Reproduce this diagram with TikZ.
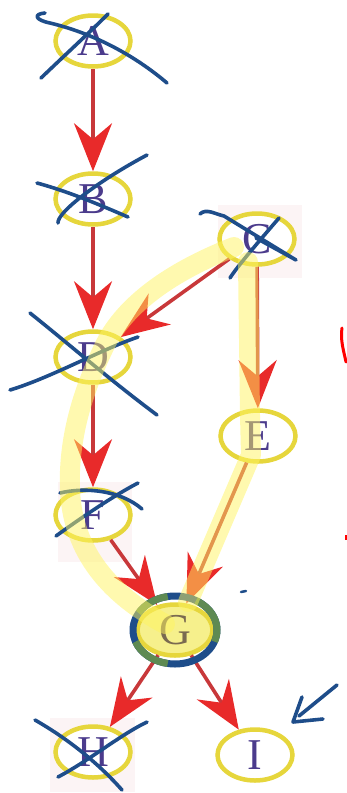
\documentclass[tikz,border=0pt]{standalone}
\usepackage{fontspec}
\setmainfont{Liberation Serif}
\usetikzlibrary{shapes.geometric,arrows.meta}
\definecolor{ellyellow}{HTML}{E6D63C}
\definecolor{letter}{HTML}{4B3B8C}
\definecolor{shaft}{HTML}{C8383A}
\definecolor{headred}{HTML}{E82A2A}
\definecolor{pen}{HTML}{1E4D8A}
\definecolor{penhl}{HTML}{5E8A52}
\definecolor{hl}{HTML}{FFF460}
\definecolor{scanpink}{HTML}{FCF4F5}
\tikzset{
  nd/.style={ellipse, draw=ellyellow, line width=4.5, fill=white, minimum width=75, minimum height=51, inner sep=0pt, text=letter, font=\fontsize{44}{44}\selectfont},
  arr/.style={draw=shaft, line width=3.6, -{Stealth[length=48, width=38, inset=16, color=headred]}},
  penline/.style={draw=pen, line width=3.6, line cap=round, line join=round},
  hlpen/.style={draw=hl, line width=20, line cap=round, line join=round, opacity=0.5},
}
\begin{document}
\begin{tikzpicture}[x=1pt,y=-1pt]
\useasboundingbox (0,0) rectangle (347,793);
% scan artefacts
\fill[scanpink] (218,205) rectangle (302,278);
\fill[scanpink] (58,482) rectangle (132,562);
\fill[scanpink] (50,718) rectangle (135,792);
% nodes
\node[nd] (A) at (93,41) {A};
\node[nd] (B) at (93,199) {B};
\node[nd] (C) at (257,239) {C};
\node[nd] (D) at (93,357) {D};
\node[nd] (E) at (258,436) {E};
\node[nd] (F) at (93,515) {F};
\node[nd, fill={rgb,255:red,246;green,240;blue,140}, text={rgb,255:red,122;green,106;blue,80}] (G) at (175,630) {G};
\node[nd] (H) at (93,752) {H};
\node[nd] (I) at (255,755) {I};
% connectors
\draw[arr] (A) -- (B);
\draw[arr] (B) -- (D);
\draw[arr] (C) -- (D);
\draw[arr] (C) -- (E);
\draw[arr] (D) -- (F);
\draw[arr] (F) -- (G);
\draw[arr] (E) -- (G);
\draw[arr] (G) -- (H);
\draw[arr] (G) -- (I);
% pen marks
\draw[penline] (45,13) .. controls (33,14) and (35,20) .. (50,23) .. controls (100,35) and (140,60) .. (167,83);
\draw[penline] (41,78) .. controls (65,55) and (90,32) .. (108,14);
\draw[penline] (37,183) .. controls (70,192) and (100,205) .. (128,217);
\draw[penline] (58,223) .. controls (57,212) and (100,180) .. (147,155);
\draw[penline] (200,214) .. controls (206,208) and (215,214) .. (224,216) -- (296,260) -- (256,238);
\draw[penline] (230,278) .. controls (236,268) and (260,240) .. (279,218);
\draw[penline] (30,313) .. controls (70,345) and (110,380) .. (157,415);
\draw[penline] (10,390) .. controls (50,378) and (100,350) .. (138,337);
\draw[penline] (60,493) .. controls (85,487) and (120,490) .. (142,509);
\draw[penline] (56,536) .. controls (85,515) and (115,495) .. (138,483);
\draw[penline] (35,720) .. controls (70,740) and (100,765) .. (122,790);
\draw[penline] (58,777) .. controls (90,760) and (120,735) .. (147,722);
\draw[penline, line width=7] (175,630) ellipse [x radius=42, y radius=34];
\draw[draw=penhl, line width=7] (175,630) ++(-150:42 and 34) arc[start angle=-150, end angle=-100, x radius=42, y radius=34];
\draw[draw=penhl, line width=7] (175,630) ++(100:42 and 34) arc[start angle=100, end angle=160, x radius=42, y radius=34];
\draw[draw=penhl, line width=7] (175,630) ++(-60:42 and 34) arc[start angle=-60, end angle=20, x radius=42, y radius=34];
\draw[penline] (337,685) -- (299,716);
\draw[penline] (302,697) -- (293,722) -- (323,719);
\draw[penline, line width=2.5] (241,592) -- (246,591);
\draw[red, line width=3, line cap=round] (342,328) .. controls (340,340) and (344,352) .. (346,362);
\fill[red] (345,535) rectangle (347,540);
% highlighter
\draw[hlpen] (234,247) .. controls (170,272) and (125,305) .. (105,345) .. controls (82,392) and (68,440) .. (70,490) .. controls (73,560) and (120,600) .. (165,624)
  (248,262) -- (250,415) -- (251,455) -- (188,602);
\end{tikzpicture}
\end{document}
